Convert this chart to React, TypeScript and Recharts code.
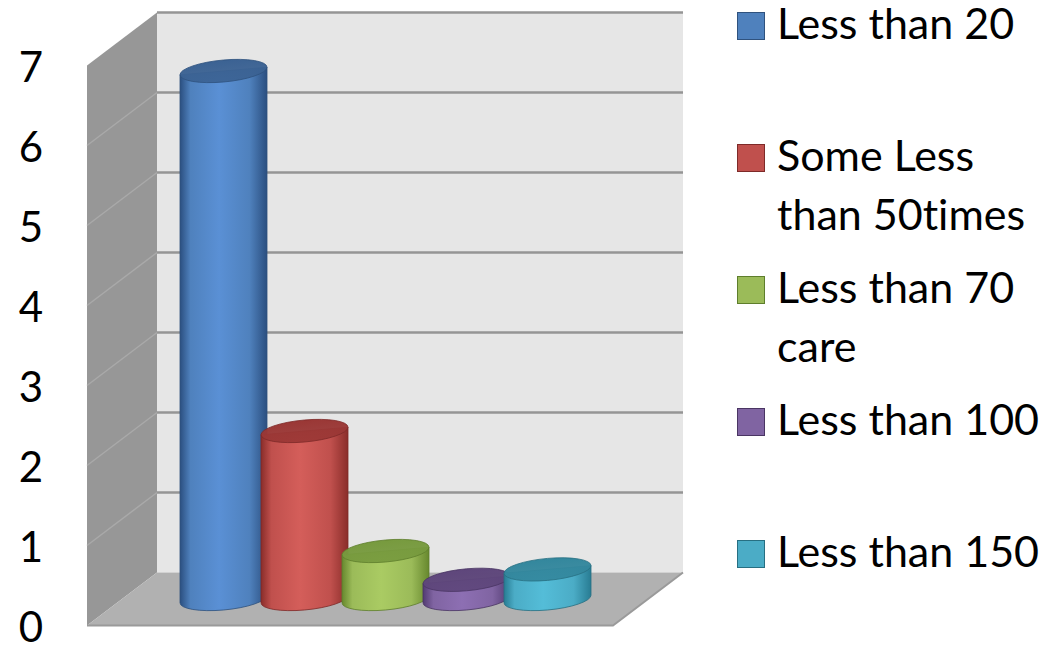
import React from "react";
import {
  BarChart,
  Bar,
  XAxis,
  YAxis,
  Legend,
  ReferenceArea,
} from "recharts";

const categories = ["Count"];
const seriesNames = [
  "Less than 20",
  "Some Less than 50times",
  "Less than 70 care",
  "Less than 100",
  "Less than 150",
];
const seriesValues = [6.6, 2.1, 0.6, 0.24, 0.37];
const yTicks = [0, 1, 2, 3, 4, 5, 6, 7];

// base / dark edge / highlight / top cap
const palette = [
  { base: "#4F81BD", dark: "#2B4F80", light: "#5A90D5", top: "#3B6293", line: "#2F527E" },
  { base: "#C0504D", dark: "#8A2D2A", light: "#D45E5A", top: "#9A3735", line: "#7E2A28" },
  { base: "#9BBB59", dark: "#67882E", light: "#AACB63", top: "#779A3E", line: "#5E7E2C" },
  { base: "#8064A2", dark: "#523B72", light: "#8D6FB3", top: "#5E467B", line: "#4A3563" },
  { base: "#4BACC6", dark: "#287C93", light: "#54BDD8", top: "#33879D", line: "#276F82" },
];

const FONT = "Lato, 'Open Sans', sans-serif";
const DX = 35; // half depth of the 3d box
const DY = 26.5;

const data = categories.map((c) => {
  const row: any = { name: c };
  seriesValues.forEach((v, i) => (row["s" + i] = v));
  return row;
});

function Walls(props: any) {
  const { x, y, width: w, height: h } = props;
  const unit = h / (yTicks.length - 1);
  const bx = x + DX;
  const fx = x - DX;
  const bottom = y + h;
  return (
    <g>
      {/* back wall */}
      <rect x={bx} y={y - DY} width={w} height={h} fill='#E6E6E6' />
      {/* side wall */}
      <polygon
        points={`${fx},${y + DY} ${bx},${y - DY} ${bx},${bottom - DY} ${fx},${bottom + DY}`}
        fill='#979797'
      />
      {/* floor */}
      <polygon
        points={`${bx},${bottom - DY} ${bx + w},${bottom - DY} ${x + w - DX},${bottom + DY} ${fx},${bottom + DY}`}
        fill='#B1B1B1'
      />
      <polyline
        points={`${fx},${bottom + DY} ${x + w - DX},${bottom + DY} ${bx + w},${bottom - DY}`}
        fill='none'
        stroke='#9A9A9A'
        strokeWidth={2}
      />
      {yTicks.slice(1).map((t) => {
        const yy = bottom - t * unit;
        return (
          <g key={t}>
            <line x1={bx} x2={bx + w} y1={yy - DY} y2={yy - DY} stroke='#959595' strokeWidth={2.5} />
            {t < yTicks[yTicks.length - 1] && (
              <line x1={fx} x2={bx} y1={yy + DY} y2={yy - DY} stroke='#A9A9A9' strokeWidth={1.5} />
            )}
          </g>
        );
      })}
    </g>
  );
}

function Cylinder(props: any) {
  const { x, y, width, height, idx } = props;
  if (width == null || height == null) return null;
  const c = palette[idx];
  const rx = width / 2;
  const ry = 11;
  const cx = x + rx;
  const top = y;
  const bot = y + height;
  const gid = "cyl" + idx;
  const tid = "cap" + idx;
  return (
    <g transform={`translate(${cx},0) skewY(-5) translate(${-cx},0)`}>
      <defs>
        <linearGradient id={gid} x1='0' x2='1' y1='0' y2='0'>
          <stop offset='0' stopColor={c.dark} />
          <stop offset='0.12' stopColor={c.base} />
          <stop offset='0.45' stopColor={c.light} />
          <stop offset='0.8' stopColor={c.base} />
          <stop offset='1' stopColor={c.dark} />
        </linearGradient>
        <linearGradient id={tid} x1='0' x2='0' y1='0' y2='1'>
          <stop offset='0' stopColor={c.top} />
          <stop offset='1' stopColor={c.top} stopOpacity={0.92} />
        </linearGradient>
      </defs>
      <path
        d={`M${x},${top} L${x},${bot} A${rx},${ry} 0 0 0 ${x + width},${bot} L${x + width},${top} Z`}
        fill={`url(#${gid})`}
        stroke={c.line}
        strokeWidth={0.8}
      />
      <ellipse cx={cx} cy={top} rx={rx} ry={ry} fill={`url(#${tid})`} stroke={c.line} strokeWidth={0.8} />
    </g>
  );
}

function YTick(props: any) {
  const { y, payload } = props;
  return (
    <text x={31} y={y + DY + 16} textAnchor='middle' fontFamily={FONT} fontSize={42} fill='#000'>
      {payload.value}
    </text>
  );
}

function LegendBox(props: any) {
  const items = (props.payload || [])
    .slice()
    .sort((a: any, b: any) => seriesNames.indexOf(a.value) - seriesNames.indexOf(b.value));
  return (
    <div style={{ fontFamily: FONT }}>
      {items.map((it: any) => {
        const i = seriesNames.indexOf(it.value);
        return (
          <div key={it.value} style={{ height: 132, display: "flex", alignItems: "flex-start" }}>
            <div
              style={{
                width: 26,
                height: 26,
                marginTop: 12,
                background: palette[i].base,
                border: `1.5px solid ${palette[i].line}`,
                flex: "none",
              }}
            />
            <div
              style={{
                marginLeft: 12,
                marginTop: -7,
                fontSize: 43,
                lineHeight: "59px",
                color: "#000",
                width: 270,
                fontVariantLigatures: "none",
              }}
            >
              {it.value}
            </div>
          </div>
        );
      })}
    </div>
  );
}

export default function App() {
  return (
    <div style={{ width: 1050, height: 645, background: "#fff" }}>
      <style>{`body{margin:0}`}</style>
      <BarChart
        width={1050}
        height={645}
        data={data}
        margin={{ top: 39, right: 402, bottom: 46, left: 0 }}
        barSize={87}
        barGap={-6}
      >
        <XAxis dataKey='name' hide />
        <YAxis
          width={122}
          domain={[0, 7]}
          ticks={yTicks}
          axisLine={false}
          tickLine={false}
          tick={<YTick />}
        />
        <ReferenceArea y1={0} y2={7} shape={<Walls />} ifOverflow='visible' />
        {seriesNames.map((n, i) => (
          <Bar
            key={n}
            dataKey={"s" + i}
            name={n}
            fill={palette[i].base}
            isAnimationActive={false}
            shape={(p: any) => <Cylinder {...p} idx={i} />}
          />
        ))}
        <Legend
          layout='vertical'
          align='center'
          verticalAlign='middle'
          wrapperStyle={{ left: 737, top: 0, width: 313 }}
          content={<LegendBox />}
        />
      </BarChart>
    </div>
  );
}
